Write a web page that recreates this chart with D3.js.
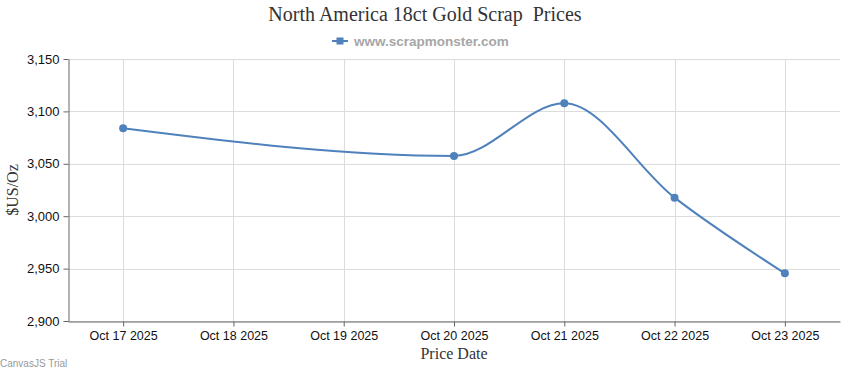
<!DOCTYPE html>
<html>
<head>
<meta charset="utf-8">
<script src="https://cdn.jsdelivr.net/npm/d3@7"></script>
<style>
  body { margin: 0; background: #fff; }
  svg { display: block; }
</style>
</head>
<body>
<svg width="850" height="370"></svg>
<script>
// chart data
var dates = ["2025-10-17", "2025-10-20", "2025-10-21", "2025-10-22", "2025-10-23"];
var prices = [3084, 3057.5, 3107.7, 3017.7, 2945.5];
var yTicks = [2900, 2950, 3000, 3050, 3100, 3150];
var xStart = "2025-10-16T12:00:00Z", xEnd = "2025-10-23T12:00:00Z";

var svg = d3.select("svg"),
    width = +svg.attr("width"),
    height = +svg.attr("height");

var padLeft = 68, padRight = 840, padTop = 59, padBottom = 321;
var blue = "#4F81BC";

var data = dates.map(function (d, i) { return [new Date(d + "T00:00:00Z"), prices[i]]; });

var x = d3.scaleUtc()
    .domain([new Date(xStart), new Date(xEnd)])
    .range([padLeft, padRight]);

var y = d3.scaleLinear()
    .domain([2900, 3150])
    .range([padBottom, padTop]);

var dayTicks = d3.utcDay.range(new Date("2025-10-17T00:00:00Z"), new Date("2025-10-24T00:00:00Z"));

// grid
svg.append("g").selectAll("line")
    .data(yTicks).enter().append("line")
    .attr("x1", padLeft).attr("x2", padRight)
    .attr("y1", function (d) { return Math.round(y(d)) + 0.5; })
    .attr("y2", function (d) { return Math.round(y(d)) + 0.5; })
    .attr("stroke", "#dcdcdc");

svg.append("g").selectAll("line")
    .data(dayTicks).enter().append("line")
    .attr("x1", function (d) { return Math.round(x(d)) + 0.5; })
    .attr("x2", function (d) { return Math.round(x(d)) + 0.5; })
    .attr("y1", padTop).attr("y2", padBottom)
    .attr("stroke", "#dcdcdc");

// x-axis
var axisBottom = d3.axisBottom(x)
    .tickValues(dayTicks)
    .tickSize(5)
    .tickSizeOuter(0)
    .tickFormat(d3.utcFormat("%b %d %Y"));

var gx = svg.append("g")
    .attr("transform", "translate(0," + (padBottom + 0.5) + ")")
    .call(axisBottom);
gx.select(".domain").attr("stroke", "#666");
gx.selectAll(".tick line").attr("stroke", "#666");
gx.selectAll(".tick text")
    .attr("y", 10)
    .attr("font-family", "Liberation Sans, Arial, sans-serif")
    .attr("font-size", "12.5px")
    .attr("fill", "#111");

// y-axis
var axisLeft = d3.axisLeft(y)
    .tickValues(yTicks)
    .tickSize(5)
    .tickSizeOuter(0)
    .tickFormat(d3.format(","));

var gy = svg.append("g")
    .attr("transform", "translate(" + (padLeft + 0.5) + ",0)")
    .call(axisLeft);
gy.select(".domain").attr("stroke", "#666");
gy.selectAll(".tick line").attr("stroke", "#666");
gy.selectAll(".tick text")
    .attr("x", -9)
    .attr("font-family", "Liberation Sans, Arial, sans-serif")
    .attr("font-size", "13px")
    .attr("fill", "#111");

// line
var line = d3.line()
    .x(function (d) { return x(d[0]); })
    .y(function (d) { return y(d[1]); })
    .curve(d3.curveMonotoneX);

svg.append("path")
    .datum(data)
    .attr("d", line)
    .attr("fill", "none")
    .attr("stroke", blue)
    .attr("stroke-width", 2);

svg.append("g").selectAll("circle")
    .data(data).enter().append("circle")
    .attr("cx", function (d) { return x(d[0]); })
    .attr("cy", function (d) { return y(d[1]); })
    .attr("r", 4)
    .attr("fill", blue);

// titles
svg.append("text")
    .attr("x", 425).attr("y", 21)
    .attr("text-anchor", "middle")
    .attr("font-family", "Liberation Serif, Times New Roman, serif")
    .attr("font-size", "20px")
    .attr("fill", "#333")
    .style("white-space", "pre")
    .text("North America 18ct Gold Scrap  Prices");

svg.append("text")
    .attr("transform", "translate(18," + ((padTop + padBottom) / 2) + ") rotate(-90)")
    .attr("text-anchor", "middle")
    .attr("font-family", "Liberation Serif, Times New Roman, serif")
    .attr("font-size", "16px")
    .attr("fill", "#333")
    .text("$US/Oz");

svg.append("text")
    .attr("x", (padLeft + padRight) / 2).attr("y", 359)
    .attr("text-anchor", "middle")
    .attr("font-family", "Liberation Serif, Times New Roman, serif")
    .attr("font-size", "16px")
    .attr("fill", "#333")
    .text("Price Date");

// legend
var legend = svg.append("g").attr("transform", "translate(332,41)");
legend.append("line")
    .attr("x1", 0).attr("x2", 16).attr("y1", 0).attr("y2", 0)
    .attr("stroke", blue).attr("stroke-width", 2);
legend.append("rect")
    .attr("x", 4.5).attr("y", -3.5).attr("width", 7).attr("height", 7)
    .attr("fill", blue);
legend.append("text")
    .attr("x", 22).attr("y", 4.5)
    .attr("font-family", "Liberation Sans, Arial, sans-serif")
    .attr("font-size", "13.5px")
    .attr("font-weight", "bold")
    .attr("fill", "#a6a6a6")
    .text("www.scrapmonster.com");

svg.append("text")
    .attr("x", 0).attr("y", 367)
    .attr("font-family", "Liberation Sans, Arial, sans-serif")
    .attr("font-size", "10px")
    .attr("fill", "#999")
    .text("CanvasJS Trial");
</script>
</body>
</html>
